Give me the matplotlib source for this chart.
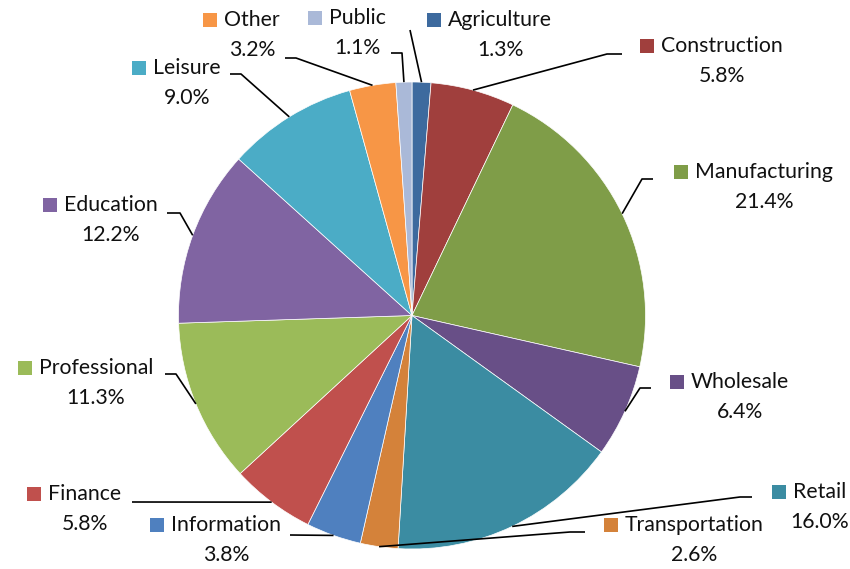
import numpy as np
import matplotlib
matplotlib.use("Agg")
import matplotlib.pyplot as plt

# Share of employment by industry
categories = ["Agriculture", "Construction", "Manufacturing", "Wholesale", "Retail",
              "Transportation", "Information", "Finance", "Professional", "Education",
              "Leisure", "Other", "Public"]
shares = [1.3, 5.8, 21.4, 6.4, 16.0, 2.6, 3.8, 5.8, 11.3, 12.2, 9.0, 3.2, 1.1]
colors = ["#3D6A9E", "#A03F3D", "#7F9D48", "#684F87", "#3B8CA2", "#D4823A", "#4F80BF",
          "#C0504D", "#9BBB59", "#8064A2", "#4BACC6", "#F79646", "#AAB9D8"]

W, H = 850, 569
CX, CY, R = 412, 315.5, 233.5


def fy(y):
    """Convert a top-down pixel row into the axes' y coordinate."""
    return H - y


# Label layout: centre of the name text (x, y), and the leader's elbow points
label_layout = {
    "Agriculture":    ((500, 20), [(410, 30)]),
    "Construction":   ((722, 46), [(622, 54), (607, 54)]),
    "Manufacturing":  ((764, 172), [(653, 179), (642, 179)]),
    "Wholesale":      ((740, 382), [(651, 388), (640, 388)]),
    "Retail":         ((820, 492), [(752, 497), (740, 497)]),
    "Transportation": ((694, 525), [(585, 532), (570, 532)]),
    "Information":    ((226, 525), [(290, 535)]),
    "Finance":        ((85, 494), [(132, 502)]),
    "Professional":   ((96, 368), [(165, 374), (176, 374)]),
    "Education":      ((111, 205), [(167, 213), (180, 213)]),
    "Leisure":        ((187, 68), [(230, 74), (241, 74)]),
    "Other":          ((252, 20), [(285, 58), (296, 58)]),
    "Public":         ((357, 18), [(391, 53), (402, 53)]),
}

plt.rcParams["font.family"] = ["Lato", "DejaVu Sans"]
FS = 15.3

fig = plt.figure(figsize=(W / 100, H / 100), dpi=100)
ax = fig.add_axes([0, 0, 1, 1])

wedges, _ = ax.pie(shares, colors=colors, startangle=90, counterclock=False,
                   center=(CX, fy(CY)), radius=R,
                   wedgeprops=dict(edgecolor="white", linewidth=0.5))
ax.set_xlim(0, W)
ax.set_ylim(0, H)
ax.set_aspect("equal")
ax.axis("off")

fig.canvas.draw()
renderer = fig.canvas.get_renderer()

for w, name, val in zip(wedges, categories, shares):
    (tx, ty), elbow = label_layout[name]
    t = ax.text(tx, fy(ty), name, ha="center", va="center", fontsize=FS, color="#111111")
    ax.text(tx, fy(ty + 30), f"{val:.1f}%", ha="center", va="center", fontsize=FS,
            color="#111111")
    # colour key square to the left of the name
    bb = t.get_window_extent(renderer)
    left_px = bb.x0
    sq = 14
    ax.add_patch(plt.Rectangle((left_px - 21, fy(ty) - sq / 2), sq, sq,
                               facecolor=w.get_facecolor(), edgecolor="none"))
    # leader line from the wedge's outer edge to the label
    mid = np.deg2rad((w.theta1 + w.theta2) / 2)
    ex = CX + R * np.cos(mid)
    ey = fy(CY) + R * np.sin(mid)
    xs = [p[0] for p in elbow] + [ex]
    ys = [fy(p[1]) for p in elbow] + [ey]
    ax.plot(xs, ys, color="black", lw=1.2, solid_capstyle="butt")

fig.savefig("out.png", dpi=100)
